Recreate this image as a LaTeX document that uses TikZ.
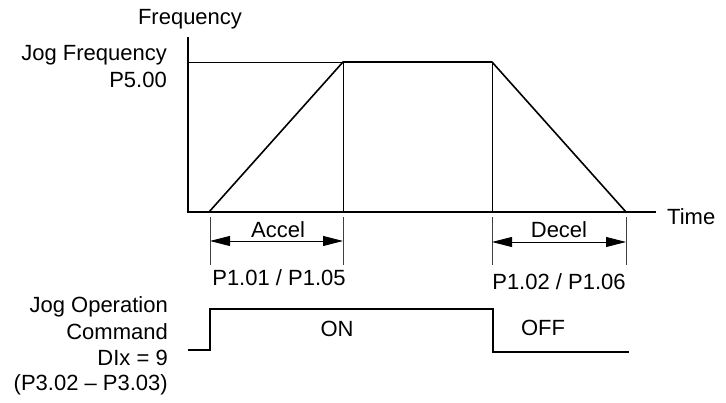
\documentclass[tikz,border=0pt]{standalone}
\usepackage{fontspec}
\setmainfont{Liberation Sans}
\usetikzlibrary{arrows.meta}
\begin{document}
\begin{tikzpicture}[x=1pt,y=-1pt,
  lbl/.style={inner sep=0pt,font=\fontsize{22}{26}\selectfont},
  axisline/.style={line width=2pt,line cap=rect},
  thinline/.style={line width=0.9pt},
  curveline/.style={line width=1.6pt,line join=round},
  dimtick/.style={line width=0.8pt,draw=black!75},
  dimarrow/.style={line width=0.9pt,{Triangle[length=20pt,width=10pt]}-{Triangle[length=20pt,width=10pt]}},
  sigline/.style={line width=1.5pt}]
\useasboundingbox (0,0) rectangle (726,403);
% key coordinates
\coordinate (ytop) at (188,38);
\coordinate (orig) at (188,212);
\coordinate (xend) at (655,212);
\coordinate (s0) at (209,212);
\coordinate (s1) at (343,62);
\coordinate (s2) at (492,62);
\coordinate (s3) at (626,212);
\coordinate (f0) at (188,62);
\coordinate (b1) at (343,212);
\coordinate (b2) at (492,212);
% axes
\draw[axisline] (ytop) -- (orig) -- (xend);
% thin guide lines
\draw[thinline] (f0) -- (s1);
\draw[thinline] (s1) -- (b1);
\draw[thinline] (s2) -- (b2);
% frequency profile
\draw[curveline] (s0) -- (s1) -- (s2) -- (s3);
% dimension ticks
\coordinate (t0a) at (210,217); \coordinate (t0b) at (210,265);
\coordinate (t1a) at (343,217); \coordinate (t1b) at (343,265);
\coordinate (t2a) at (492,217); \coordinate (t2b) at (492,265);
\coordinate (t3a) at (626,217); \coordinate (t3b) at (626,265);
\draw[dimtick] (t0a) -- (t0b) (t1a) -- (t1b) (t2a) -- (t2b) (t3a) -- (t3b);
\coordinate (a0) at (210,241); \coordinate (a1) at (343,241);
\coordinate (d0) at (492,242); \coordinate (d1) at (626,242);
\draw[dimarrow] (a0) -- (a1);
\draw[dimarrow] (d0) -- (d1);
% labels
\node[lbl] (freq) at (190,19) {Frequency};
\node[lbl,anchor=east] (jog) at (167,55) {Jog Frequency};
\node[lbl,anchor=east] (p500) at (167,80) {P5.00};
\node[lbl,anchor=west] (time) at (667,217) {Time};
\node[lbl] (accel) at (278,230) {Accel};
\node[lbl] (decel) at (559,230) {Decel};
\node[lbl] (pacc) at (279,278) {P1.01 / P1.05};
\node[lbl] (pdec) at (559,282) {P1.02 / P1.06};
% command signal
\coordinate (c0) at (188,350);
\coordinate (c1) at (210,350);
\coordinate (c2) at (210,309);
\coordinate (c3) at (493,309);
\coordinate (c4) at (493,352);
\coordinate (c5) at (629,352);
\draw[sigline] (c0) -- (c1) -- (c2) -- (c3) -- (c4) -- (c5);
\node[lbl] (on) at (337,329) {ON};
\node[lbl] (off) at (543,328) {OFF};
\node[lbl,anchor=east] (cmd1) at (168,307) {Jog Operation};
\node[lbl,anchor=east] (cmd2) at (168,332) {Command};
\node[lbl,anchor=east] (cmd3) at (168,358) {DIx = 9};
\node[lbl,anchor=east] (cmd4) at (168,385) {(P3.02 – P3.03)};
\end{tikzpicture}
\end{document}
